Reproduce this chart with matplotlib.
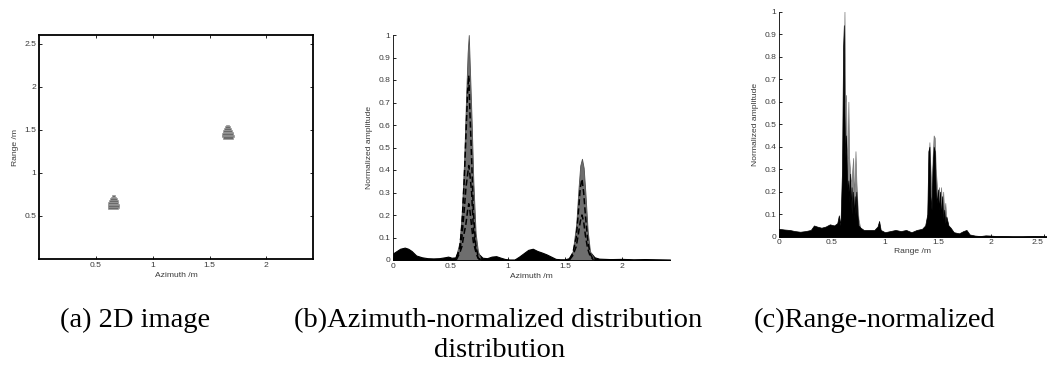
import matplotlib
matplotlib.use("Agg")
import matplotlib.pyplot as plt

# ---------------- data ----------------
# (a) 2D image: target centres (azimuth, range)
target_azimuth = [0.655, 1.66]
target_range = [0.655, 1.47]
# stacked rows making each blob: range offset / half width (m)
blob_dy = [0.075, 0.055, 0.035, 0.015, -0.005, -0.025, -0.045, -0.06]
blob_halfw = [0.014, 0.024, 0.032, 0.038, 0.044, 0.05, 0.052, 0.044]

# (b) azimuth profiles
az_x = [0.00, 0.03, 0.06, 0.10, 0.13, 0.16, 0.20, 0.25, 0.30, 0.35,
        0.40, 0.45, 0.48, 0.51, 0.55, 0.58, 0.74, 0.78, 0.82, 0.86,
        0.90, 0.94, 0.98, 1.02, 1.06, 1.10, 1.14, 1.18, 1.22, 1.26,
        1.30, 1.34, 1.38, 1.42, 1.46, 1.50, 1.55, 1.58, 1.73, 1.76,
        1.80, 1.90, 2.00, 2.10, 2.20, 2.30, 2.42]
az_floor = [0.030, 0.040, 0.050, 0.055, 0.050, 0.040, 0.020, 0.012, 0.008, 0.007,
            0.008, 0.012, 0.015, 0.010, 0.012, 0.030, 0.030, 0.010, 0.008, 0.015,
            0.017, 0.010, 0.004, 0.002, 0.002, 0.015, 0.030, 0.045, 0.050, 0.040,
            0.033, 0.025, 0.015, 0.005, 0.003, 0.003, 0.010, 0.030, 0.030, 0.012,
            0.006, 0.004, 0.005, 0.003, 0.004, 0.003, 0.002]
peak1_x = [0.55, 0.58, 0.60, 0.62, 0.635, 0.65, 0.66, 0.67, 0.685, 0.70, 0.72, 0.74, 0.76]
peak1_gray = [0.02, 0.08, 0.22, 0.45, 0.70, 0.92, 1.00, 0.85, 0.62, 0.35, 0.12, 0.04, 0.01]
peak1_lines = [
    [0.01, 0.05, 0.15, 0.35, 0.55, 0.75, 0.82, 0.66, 0.45, 0.22, 0.07, 0.02, 0.00],
    [0.01, 0.04, 0.10, 0.22, 0.32, 0.38, 0.42, 0.38, 0.30, 0.14, 0.05, 0.01, 0.00],
    [0.00, 0.03, 0.06, 0.12, 0.16, 0.22, 0.25, 0.22, 0.15, 0.08, 0.04, 0.01, 0.00],
]
peak2_x = [1.54, 1.57, 1.60, 1.62, 1.635, 1.65, 1.665, 1.68, 1.70, 1.72, 1.75]
peak2_gray = [0.01, 0.04, 0.16, 0.32, 0.42, 0.45, 0.41, 0.30, 0.13, 0.04, 0.01]
peak2_lines = [
    [0.005, 0.03, 0.10, 0.22, 0.32, 0.36, 0.30, 0.20, 0.09, 0.03, 0.00],
    [0.000, 0.02, 0.06, 0.12, 0.17, 0.20, 0.17, 0.11, 0.05, 0.02, 0.00],
]

# (c) range profiles
rng_x = [0.00, 0.05, 0.10, 0.15, 0.20, 0.25, 0.30, 0.33, 0.36, 0.40,
         0.44, 0.48, 0.52, 0.55, 0.565, 0.58, 0.595, 0.605, 0.612, 0.618,
         0.625, 0.632, 0.64, 0.648, 0.655, 0.662, 0.67, 0.677, 0.685, 0.692,
         0.70, 0.708, 0.715, 0.722, 0.73, 0.74, 0.75, 0.77, 0.80, 0.85,
         0.90, 0.93, 0.945, 0.96, 1.00, 1.05, 1.10, 1.15, 1.20, 1.25,
         1.30, 1.35, 1.38, 1.40, 1.41, 1.42, 1.43, 1.44, 1.45, 1.46,
         1.47, 1.48, 1.49, 1.50, 1.51, 1.52, 1.53, 1.54, 1.55, 1.56,
         1.57, 1.58, 1.60, 1.62, 1.65, 1.70, 1.74, 1.77, 1.80, 1.85,
         1.90, 1.95, 2.00, 2.05, 2.10, 2.20, 2.30, 2.40, 2.53]
rng_black = [0.035, 0.032, 0.030, 0.025, 0.022, 0.025, 0.030, 0.050, 0.045, 0.040,
             0.045, 0.055, 0.050, 0.060, 0.095, 0.050, 0.300, 0.840, 0.940, 0.550,
             0.350, 0.450, 0.300, 0.200, 0.250, 0.150, 0.280, 0.120, 0.220, 0.100,
             0.200, 0.080, 0.180, 0.100, 0.200, 0.100, 0.050, 0.040, 0.030, 0.030,
             0.030, 0.045, 0.070, 0.030, 0.020, 0.025, 0.030, 0.025, 0.030, 0.020,
             0.030, 0.035, 0.050, 0.100, 0.380, 0.400, 0.180, 0.120, 0.300, 0.400,
             0.380, 0.200, 0.150, 0.210, 0.120, 0.200, 0.090, 0.180, 0.080, 0.120,
             0.060, 0.090, 0.050, 0.040, 0.020, 0.015, 0.025, 0.030, 0.010, 0.005,
             0.003, 0.006, 0.005, 0.003, 0.003, 0.002, 0.002, 0.003, 0.002]
rng_gray = [0.020, 0.020, 0.020, 0.015, 0.015, 0.020, 0.020, 0.030, 0.030, 0.030,
            0.030, 0.040, 0.040, 0.050, 0.070, 0.040, 0.150, 0.500, 0.700, 1.000,
            0.600, 0.630, 0.400, 0.350, 0.600, 0.350, 0.300, 0.250, 0.250, 0.300,
            0.350, 0.200, 0.250, 0.380, 0.250, 0.150, 0.080, 0.030, 0.020, 0.020,
            0.020, 0.030, 0.050, 0.020, 0.015, 0.020, 0.020, 0.020, 0.020, 0.015,
            0.020, 0.025, 0.040, 0.070, 0.250, 0.420, 0.300, 0.200, 0.350, 0.450,
            0.440, 0.300, 0.230, 0.150, 0.220, 0.150, 0.220, 0.120, 0.200, 0.100,
            0.150, 0.070, 0.040, 0.030, 0.015, 0.010, 0.020, 0.020, 0.005, 0.003,
            0.002, 0.004, 0.003, 0.002, 0.002, 0.001, 0.001, 0.002, 0.001]

a_xticks = [0.5, 1, 1.5, 2]
a_xlabels = ["0.5", "1", "1.5", "2"]
a_yticks = [0.5, 1, 1.5, 2, 2.5]
a_ylabels = ["0.5", "1", "1.5", "2", "2.5"]
amp_ticks = [0, 0.1, 0.2, 0.3, 0.4, 0.5, 0.6, 0.7, 0.8, 0.9, 1]
amp_labels = ["0", "0.1", "0.2", "0.3", "0.4", "0.5", "0.6", "0.7", "0.8", "0.9", "1"]
b_xticks = [0, 0.5, 1, 1.5, 2]
b_xlabels = ["0", "0.5", "1", "1.5", "2"]
c_xticks = [0, 0.5, 1, 1.5, 2, 2.5]
c_xlabels = ["0", "0.5", "1", "1.5", "2", "2.5"]
captions = ["(a) 2D image", "(b)Azimuth-normalized distribution",
            "(c)Range-normalized", "distribution"]

# ---------------- layout ----------------
W, H = 1047, 365
fig = plt.figure(figsize=(W / 100, H / 100), dpi=100)
fig.patch.set_facecolor("white")


def axes_px(l, r, t, b):
    return fig.add_axes([l / W, (H - b) / H, (r - l) / W, (b - t) / H])


TICKFS = 6.1
SANS = "Liberation Sans"
TCOL = "#3a3a3a"


def style(ax):
    ax.tick_params(direction="in", length=2, width=0.6, labelsize=TICKFS,
                   colors="black", labelcolor=TCOL, pad=2)
    for lab in ax.get_xticklabels() + ax.get_yticklabels():
        lab.set_family(SANS)


# (a)
axa = axes_px(39, 313, 35, 259)
for cx, cy in zip(target_azimuth, target_range):
    for dy, hw in zip(blob_dy, blob_halfw):
        axa.barh(cy + dy, 2 * hw, height=0.026, left=cx - hw,
                 color="#6a6a6a", edgecolor="#9a9a9a", linewidth=0.5)
axa.set_xlim(0, 2.41)
axa.set_ylim(0, 2.6)
axa.set_xticks(a_xticks)
axa.set_xticklabels(a_xlabels)
axa.set_yticks(a_yticks)
axa.set_yticklabels(a_ylabels)
axa.tick_params(top=True, right=True)
for s in axa.spines.values():
    s.set_linewidth(1.3)
style(axa)
axa.set_xlabel("Azimuth /m", fontsize=TICKFS, family=SANS, color=TCOL, labelpad=2)
axa.set_ylabel("Range /m", fontsize=TICKFS, family=SANS, color=TCOL, labelpad=4)

# (b)
axb = axes_px(393.3, 670, 35, 260)
axb.fill_between(az_x, 0, az_floor, color="black", linewidth=0.8, edgecolor="black")
axb.fill_between(peak1_x, 0, peak1_gray, color="#6e6e6e", linewidth=0.6, edgecolor="#505050")
for ln in peak1_lines:
    axb.plot(peak1_x, ln, color="black", lw=1.1, ls=(0, (4, 2)))
axb.fill_between(peak2_x, 0, peak2_gray, color="#6e6e6e", linewidth=0.6, edgecolor="#505050")
for ln in peak2_lines:
    axb.plot(peak2_x, ln, color="black", lw=1.1, ls=(0, (4, 2)))
axb.set_xlim(0, 2.42)
axb.set_ylim(0, 1)
axb.set_xticks(b_xticks)
axb.set_xticklabels(b_xlabels)
axb.set_yticks(amp_ticks)
axb.set_yticklabels(amp_labels)
axb.spines["top"].set_visible(False)
axb.spines["right"].set_visible(False)
for s in ("left", "bottom"):
    axb.spines[s].set_linewidth(0.6)
style(axb)
axb.set_xlabel("Azimuth /m", fontsize=TICKFS, family=SANS, color=TCOL, labelpad=2)
axb.set_ylabel("Normalized amplitude", fontsize=TICKFS, family=SANS, color=TCOL, labelpad=4)

# (c)
axc = axes_px(779, 1047, 11.7, 236.7)
axc.fill_between(rng_x, 0, rng_gray, color="#8a8a8a", linewidth=0.5, edgecolor="#777777")
axc.fill_between(rng_x, 0, rng_black, color="black", linewidth=0.5, edgecolor="black")
axc.set_xlim(0, 2.53)
axc.set_ylim(0, 1)
axc.set_xticks(c_xticks)
axc.set_xticklabels(c_xlabels)
axc.set_yticks(amp_ticks)
axc.set_yticklabels(amp_labels)
axc.spines["top"].set_visible(False)
axc.spines["right"].set_visible(False)
for s in ("left", "bottom"):
    axc.spines[s].set_linewidth(0.6)
style(axc)
axc.get_xticklabels()[-1].set_horizontalalignment("right")
axc.set_xlabel("Range /m", fontsize=TICKFS, family=SANS, color=TCOL, labelpad=1)
axc.set_ylabel("Normalized amplitude", fontsize=TICKFS, family=SANS, color=TCOL, labelpad=4)

# captions
CAPFS = 20.5
SERIF = "Liberation Serif"
base1 = (H - 327) / H
fig.text(60 / W, base1, captions[0], fontsize=CAPFS, family=SERIF, va="baseline", ha="left")
fig.text(294 / W, base1, captions[1], fontsize=CAPFS, family=SERIF, va="baseline", ha="left")
fig.text(875 / W, base1, captions[2], fontsize=CAPFS, family=SERIF, va="baseline", ha="center")
fig.text(500 / W, (H - 357) / H, captions[3], fontsize=CAPFS, family=SERIF, va="baseline", ha="center")

fig.savefig("out.png", dpi=100)
